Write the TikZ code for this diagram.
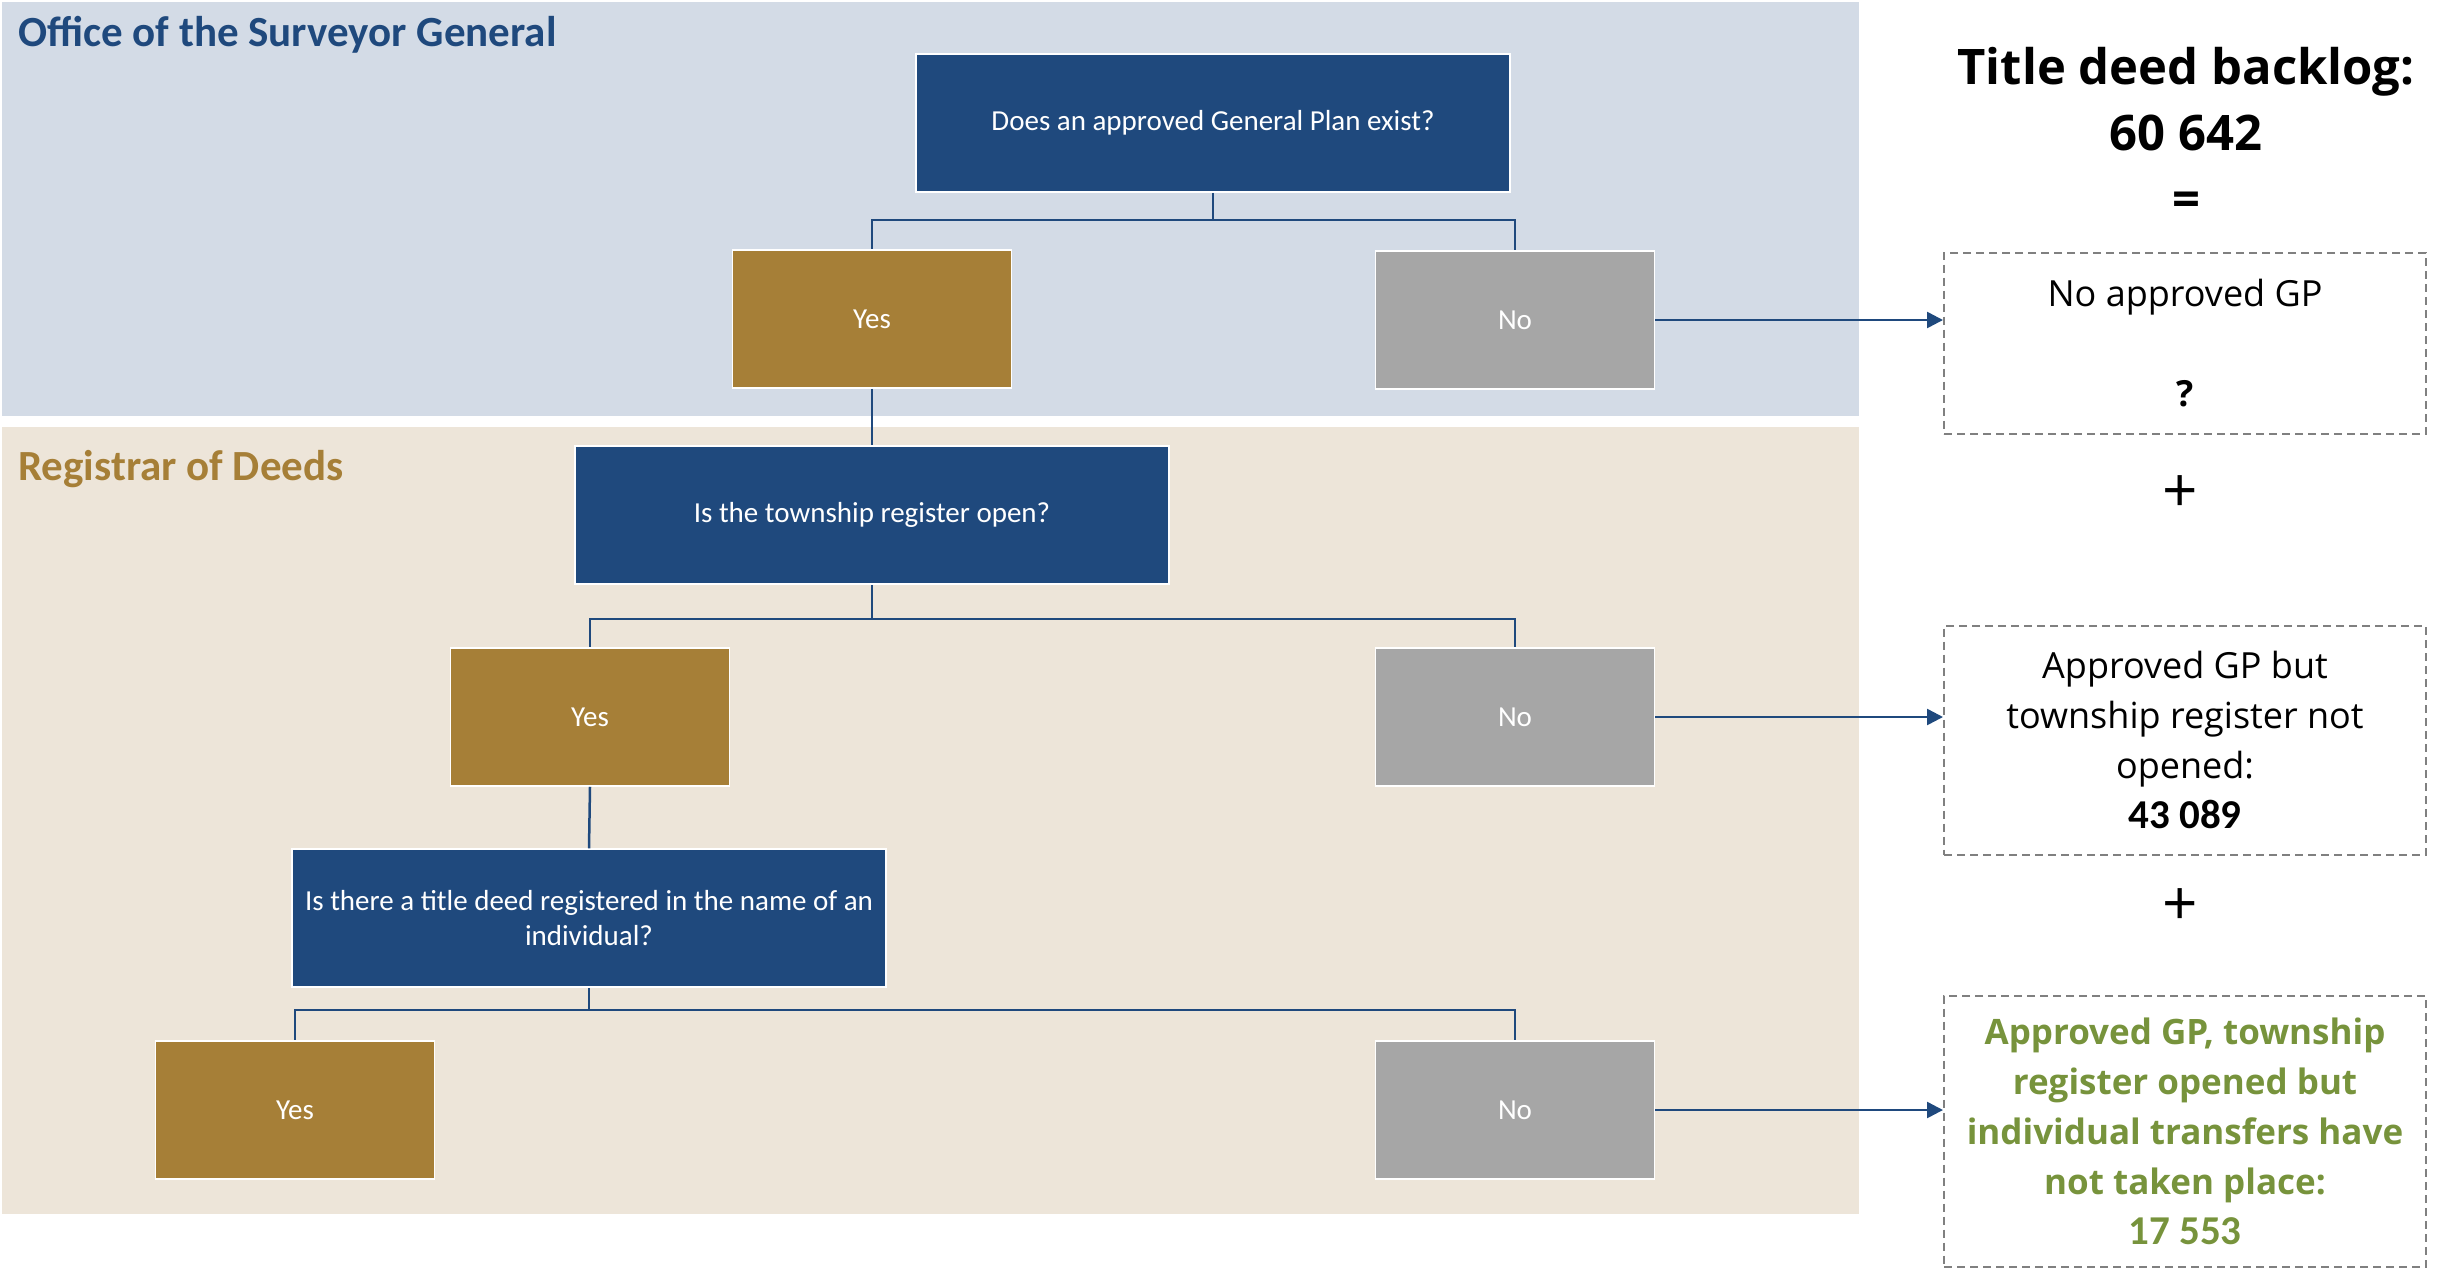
\documentclass[tikz,border=0pt]{standalone}
\usepackage{fontspec}
\setmainfont{Carlito}
\newfontfamily\opensans{Open Sans}
\usepackage{tikz}
\usetikzlibrary{arrows.meta}
\usetikzlibrary{positioning,calc}

\definecolor{sgblue}{RGB}{31,73,125}
\definecolor{rdgold}{RGB}{166,127,55}
\definecolor{nogray}{RGB}{166,166,166}
\definecolor{sgband}{RGB}{211,219,230}
\definecolor{rdband}{RGB}{237,229,217}
\definecolor{gpgreen}{RGB}{119,147,60}

\tikzset{
  every box/.style={draw=white, line width=1.5pt, text=white, align=center, inner sep=0pt,
    font=\fontsize{29}{35}\selectfont},
  question/.style={every box, fill=sgblue, minimum width=594pt, minimum height=138pt},
  answer yes/.style={every box, fill=rdgold, minimum width=279pt, minimum height=138pt},
  answer no/.style={every box, fill=nogray, minimum width=279pt, minimum height=138pt},
  backlog/.style={draw=gray, line width=2pt, dash pattern=on 8pt off 5pt, minimum width=482pt,
    align=center, inner sep=0pt, font=\opensans\fontsize{36}{50}\selectfont},
  band title/.style={anchor=west, inner sep=0pt, font=\bfseries\fontsize{43}{50}\selectfont},
  sign/.style={inner sep=0pt, font=\opensans\fontsize{62}{62}\selectfont},
  link/.style={sgblue, line width=2.5pt},
}

\begin{document}
\begin{tikzpicture}[x=1pt, y=-1pt, >={Triangle[length=16pt,width=16pt]}]

\useasboundingbox (0,0) rectangle (2443,1267);
\clip (0,0) rectangle (2443,1267);

% bands
\fill[sgband] (2,2) rectangle (1859,416);
\fill[rdband] (2,427) rectangle (1859,1214);
\node[band title, text=sgblue] (sg-title) at (18,35) {Office of the Surveyor General};
\node[band title, text=rdgold] (rd-title) at (18,469) {Registrar of Deeds};

% questions
\node[question] (q1) at (1213,123) {Does an approved General Plan exist?};
\node[question] (q2) at (872,515) {Is the township register open?};
\node[question] (q3) at (589,918) {Is there a title deed registered in the name of an\\individual?};

\foreach \i/\x/\y in {1/872/319, 2/590/717, 3/295/1110}
  \node[answer yes] (yes-\i) at (\x,\y) {Yes};

\foreach \i/\y in {1/320, 2/717, 3/1110}
  \node[answer no] (no-\i) at (1515,\y) {No};

% backlog column
\node[font=\opensans\bfseries\fontsize{49}{66}\selectfont, align=center] (total) at (2186,132)
  {Title deed backlog:\\60 642\\=};
\node[backlog, minimum height=181pt] (gp-1) at (2185,343) {No approved GP\\[50pt]\textbf{?}};
\node[sign] (plus-1) at (2180,494) {+};
\node[backlog, minimum height=229pt] (gp-2) at (2185,740)
  {Approved GP but\\township register not\\opened:\\{\rmfamily\bfseries\fontsize{41}{50}\selectfont 43 089}};
\node[sign] (plus-2) at (2180,907) {+};
\node[backlog, minimum height=271pt, text=gpgreen, font=\opensans\bfseries\fontsize{35}{50}\selectfont] (gp-3) at (2185,1131)
  {Approved GP, township\\register opened but\\individual transfers have\\not taken place:\\{\rmfamily\bfseries\fontsize{41}{50}\selectfont 17 553}};

% tree lines
\foreach \i/\j in {1/220, 2/619, 3/1010} {
  \draw[link] (q\i.south) -- (q\i.south |- 0,\j) -| (yes-\i.north);
  \draw[link] (q\i.south |- 0,\j) -| (no-\i.north);
}
\draw[link] (yes-1.south) -- (q2.north);
\draw[link] (yes-2.south) -- (q3.north);

% arrows to backlog
\foreach \i in {1,2,3}
  \draw[link, ->] (no-\i.east) -- (no-\i.east -| gp-\i.west);

\end{tikzpicture}
\end{document}
